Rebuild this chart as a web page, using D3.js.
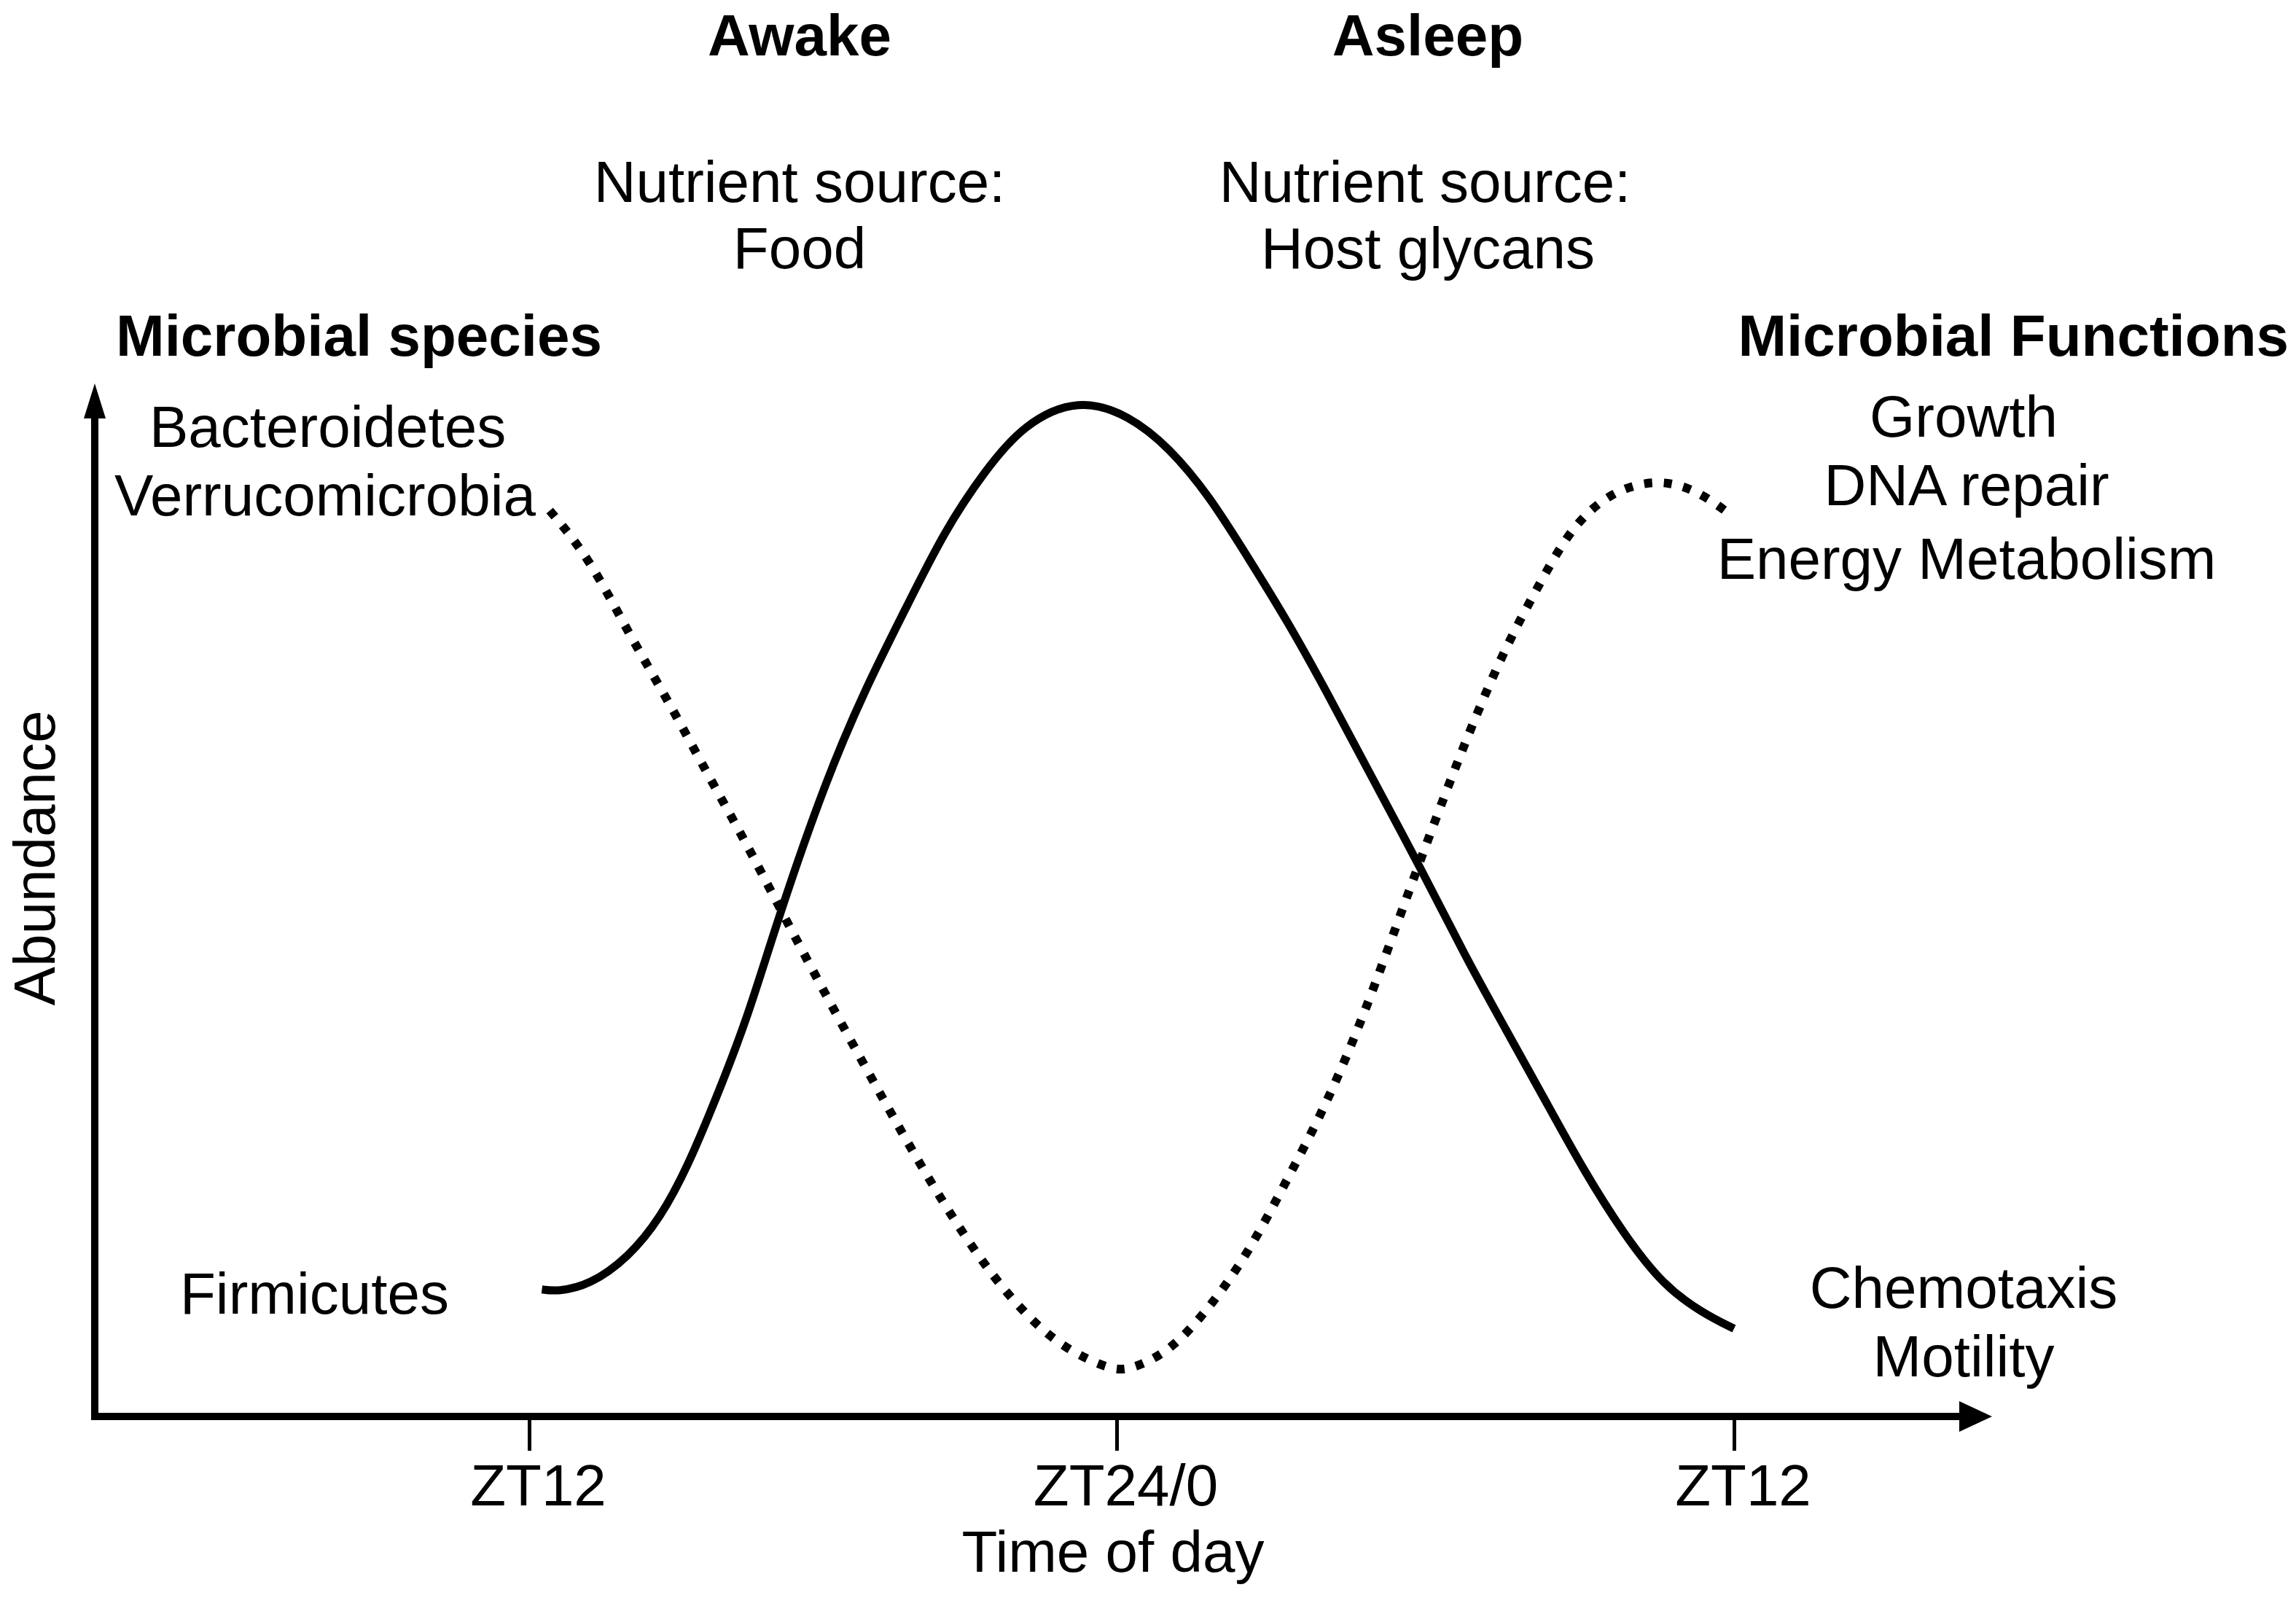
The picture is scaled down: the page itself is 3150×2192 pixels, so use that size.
<!DOCTYPE html>
<html>
<head>
<meta charset="utf-8">
<style>
  body { margin: 0; background: #fff; }
  text { font-family: "Liberation Sans", Arial, sans-serif; fill: #000; }
</style>
</head>
<body>
  <div id="chart"></div>
  <script src="https://cdn.jsdelivr.net/npm/d3@7"></script>
  <script>
    // time of day in hours (ZT12 -> ZT24/0 -> ZT12 of next day = 36)
    var tickHours = [12, 24, 36],
        tickLabels = ["ZT12", "ZT24/0", "ZT12"];

    // solid curve: Firmicutes -> Chemotaxis, Motility
    var solidHours  = [12.26, 12.58, 13.23, 14.03, 14.68, 15.24, 15.81, 16.45, 17.12, 18.07, 18.87,
                       19.68, 20.49, 21.30, 22.10, 23.23, 24.25, 25.02, 25.79, 26.56, 27.32, 28.09,
                       28.86, 29.92, 30.78, 31.55, 32.32, 33.08, 33.85, 34.62, 35.39, 36.0],
        solidValues = [12.3, 12.1, 12.7, 15.4, 19.2, 24.2, 30.7, 38.4, 48.8, 61.7, 70.5,
                       78.1, 85.8, 91.5, 96.1, 98.6, 96.9, 93.8, 89.2, 83.1, 77.0, 70.1,
                       62.8, 53.0, 44.5, 37.6, 30.7, 23.8, 17.7, 12.7, 10.0, 8.5];

    // dotted curve: Bacteroidetes, Verrucomicrobia -> Growth, DNA repair, Energy Metabolism
    var dottedHours  = [12.42, 13.23, 14.03, 14.84, 15.65, 16.38, 17.13, 18.07, 18.87, 19.68, 20.49,
                        21.30, 22.10, 22.91, 23.88, 24.25, 25.02, 25.79, 26.56, 27.32, 28.09, 28.86,
                        29.63, 30.40, 31.01, 31.62, 32.24, 32.85, 33.62, 34.54, 35.31, 35.93],
        dottedValues = [87.7, 83.1, 75.8, 69.3, 62.1, 56.0, 49.1, 40.7, 33.8, 26.9, 20.4,
                        14.6, 10.0, 6.6, 4.5, 4.5, 6.2, 10.4, 15.8, 23.0, 30.3, 39.5,
                        50.2, 60.5, 68.2, 75.1, 80.8, 86.2, 89.6, 90.8, 89.6, 87.3];

    var width = 3150,
        height = 2192,
        axisX = 130,
        axisY = 1943,
        fontSize = 80;

    var svg = d3.select('#chart').append('svg')
      .attr('width', width)
      .attr('height', height);

    svg.append('rect').attr('width', width).attr('height', height).attr('fill', '#fff');

    var x = d3.scaleLinear().domain([12, 24, 36]).range([726, 1532, 2379]);
    var y = d3.scaleLinear().domain([0, 100]).range([axisY, 526]);

    var line = d3.line()
      .x(function(d){ return x(d[0]); })
      .y(function(d){ return y(d[1]); })
      .curve(d3.curveBasis);

    var solid = d3.zip(solidHours, solidValues),
        dotted = d3.zip(dottedHours, dottedValues);

    svg.append('path')
      .attr('d', line(solid))
      .attr('fill', 'none')
      .attr('stroke', '#000')
      .attr('stroke-width', 11);

    svg.append('path')
      .attr('d', line(dotted))
      .attr('fill', 'none')
      .attr('stroke', '#000')
      .attr('stroke-width', 12)
      .attr('stroke-dasharray', '11 16');

    // axes with arrow heads
    svg.append('line')
      .attr('x1', axisX).attr('y1', axisY + 5)
      .attr('x2', axisX).attr('y2', 560)
      .attr('stroke', '#000').attr('stroke-width', 10);
    svg.append('path')
      .attr('d', 'M' + axisX + ',526 L' + (axisX - 15) + ',574 L' + (axisX + 15) + ',574 Z')
      .attr('fill', '#000');

    svg.append('line')
      .attr('x1', axisX - 5).attr('y1', axisY)
      .attr('x2', 2700).attr('y2', axisY)
      .attr('stroke', '#000').attr('stroke-width', 10);
    svg.append('path')
      .attr('d', 'M2733,' + axisY + ' L2688,' + (axisY - 21) + ' L2688,' + (axisY + 21) + ' Z')
      .attr('fill', '#000');

    var xAxis = d3.axisBottom(x)
      .tickValues(tickHours)
      .tickFormat(function(d, i){ return tickLabels[i]; })
      .tickSize(47)
      .tickPadding(18);

    var gx = svg.append('g')
      .attr('transform', 'translate(0,' + axisY + ')')
      .call(xAxis);
    gx.select('.domain').remove();
    gx.selectAll('.tick line').attr('stroke', '#000').attr('stroke-width', 5);
    gx.selectAll('.tick text')
      .attr('x', 12)
      .style('font-family', '"Liberation Sans", Arial, sans-serif')
      .style('font-size', fontSize + 'px')
      .attr('fill', '#000');

    function label(txt, px, py, anchor, bold){
      svg.append('text')
        .attr('x', px).attr('y', py)
        .attr('text-anchor', anchor)
        .style('font-size', fontSize + 'px')
        .style('font-weight', bold ? 'bold' : 'normal')
        .text(txt);
    }

    label('Time of day', 1527, 2156, 'middle');

    svg.append('text')
      .attr('transform', 'translate(75,1177) rotate(-90)')
      .attr('text-anchor', 'middle')
      .style('font-size', fontSize + 'px')
      .text('Abundance');

    label('Awake', 1097, 76, 'middle', true);
    label('Asleep', 1959, 76, 'middle', true);
    label('Nutrient source:', 1097, 277, 'middle');
    label('Food', 1097, 368, 'middle');
    label('Nutrient source:', 1955, 277, 'middle');
    label('Host glycans', 1959, 368, 'middle');

    label('Microbial species', 159, 488, 'start', true);
    label('Microbial Functions', 3140, 488, 'end', true);

    label('Bacteroidetes', 205, 613, 'start');
    label('Verrucomicrobia', 157, 707, 'start');
    label('Firmicutes', 247, 1802, 'start');

    label('Growth', 2694, 599, 'middle');
    label('DNA repair', 2698, 693, 'middle');
    label('Energy Metabolism', 2698, 794, 'middle');
    label('Chemotaxis', 2694, 1794, 'middle');
    label('Motility', 2694, 1888, 'middle');
  </script>
</body>
</html>
